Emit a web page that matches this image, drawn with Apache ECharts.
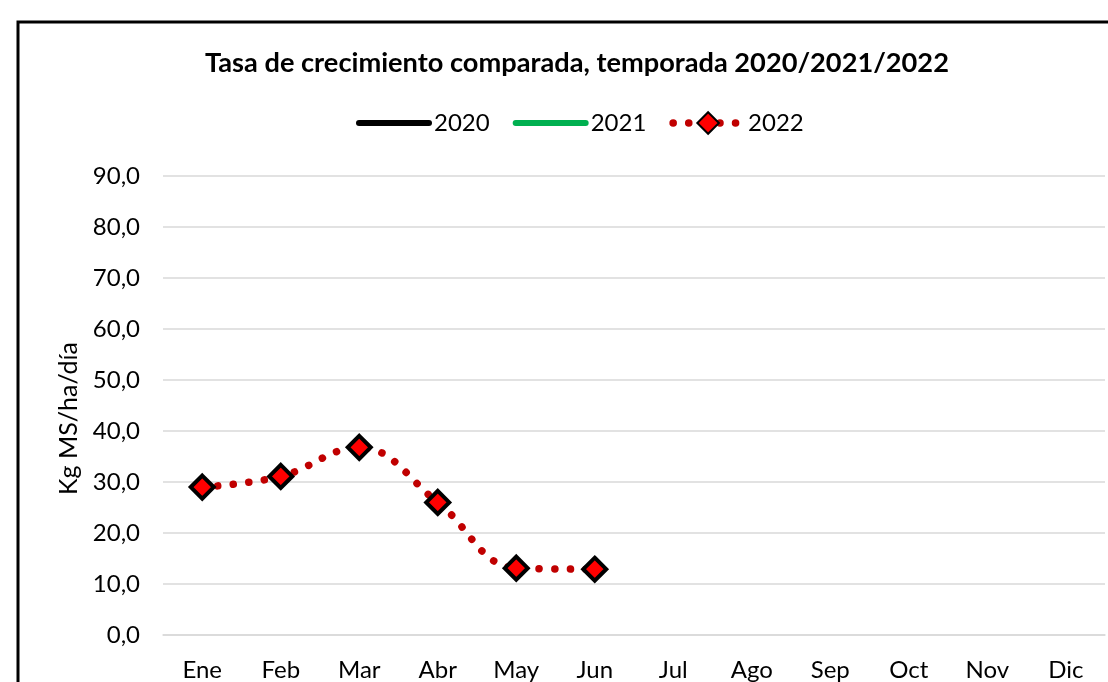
<!DOCTYPE html>
<html>
<head>
<meta charset="utf-8">
<script src="https://cdn.jsdelivr.net/npm/echarts@6/dist/echarts.min.js"></script>
<style>
html,body{margin:0;padding:0;background:#fff;}
#c{width:1108px;height:682px;}
</style>
</head>
<body>
<div id="c"></div>
<script>
var titleText = 'Tasa de crecimiento comparada, temporada 2020/2021/2022';
var yAxisName = 'Kg MS/ha/día';
var months = ['Ene','Feb','Mar','Abr','May','Jun','Jul','Ago','Sep','Oct','Nov','Dic'];
var seriesNames = ['2020','2021','2022'];
var values2020 = [null,null,null,null,null,null,null,null,null,null,null,null];
var values2021 = [null,null,null,null,null,null,null,null,null,null,null,null];
var values2022 = [29.0,31.1,36.8,26.0,13.1,12.9,null,null,null,null,null,null];
var yMin = 0, yMax = 90, yStep = 10;

var FONT = 'Lato';
var chart = echarts.init(document.getElementById('c'), null, {renderer:'canvas'});
chart.setOption({
  animation:false,
  backgroundColor:'#fff',
  textStyle:{fontFamily:FONT},
  graphic:[{type:'rect',shape:{x:18,y:22,width:1300,height:900},style:{fill:'none',stroke:'#000',lineWidth:3},silent:true}],
  title:{text:titleText,left:205,top:50,padding:0,textStyle:{fontFamily:FONT,fontWeight:'bold',fontSize:27.2,color:'#000'}},
  legend:{
    top:111,left:356,padding:0,itemWidth:70,itemHeight:27,itemGap:23,
    textStyle:{fontFamily:FONT,fontSize:24,color:'#000'},
    data:[
      {name:seriesNames[0],itemStyle:{opacity:0},lineStyle:{width:6,color:'#000',cap:'round'}},
      {name:seriesNames[1],itemStyle:{opacity:0},lineStyle:{width:6,color:'#00B050',cap:'round'}},
      {name:seriesNames[2],lineStyle:{width:7.5,color:'#C00000',type:[0.1,15.5],cap:'round'}}
    ]
  },
  grid:{left:163,right:3,top:176,bottom:43,containLabel:false},
  xAxis:{
    type:'category',data:months,boundaryGap:true,
    axisLine:{show:true,lineStyle:{color:'#D9D9D9',width:1.5}},
    axisTick:{show:false},
    axisLabel:{fontFamily:FONT,fontSize:24,color:'#000',margin:23}
  },
  yAxis:{
    type:'value',min:yMin,max:yMax,interval:yStep,
    name:yAxisName,nameLocation:'middle',nameGap:82,
    nameTextStyle:{fontFamily:FONT,fontSize:25,color:'#000',padding:[0,26,0,0]},
    axisLine:{show:false},axisTick:{show:false},
    splitLine:{lineStyle:{color:'#D9D9D9',width:1.5}},
    axisLabel:{fontFamily:FONT,fontSize:24,color:'#000',margin:23,
      formatter:function(v){return v.toFixed(1).replace('.',',');}}
  },
  series:[
    {name:seriesNames[0],type:'line',data:values2020,symbol:'none',
      itemStyle:{color:'#000'},lineStyle:{color:'#000',width:5,cap:'round'}},
    {name:seriesNames[1],type:'line',data:values2021,symbol:'none',
      itemStyle:{color:'#00B050'},lineStyle:{color:'#00B050',width:5,cap:'round'}},
    {name:seriesNames[2],type:'line',data:values2022,smooth:0.4,
      symbol:'diamond',symbolSize:23,
      itemStyle:{color:'#FF0000',borderColor:'#000',borderWidth:4},
      lineStyle:{color:'#C00000',width:7.5,type:[0.1,15.5],cap:'round'},
      z:3}
  ]
});
</script>
</body>
</html>
